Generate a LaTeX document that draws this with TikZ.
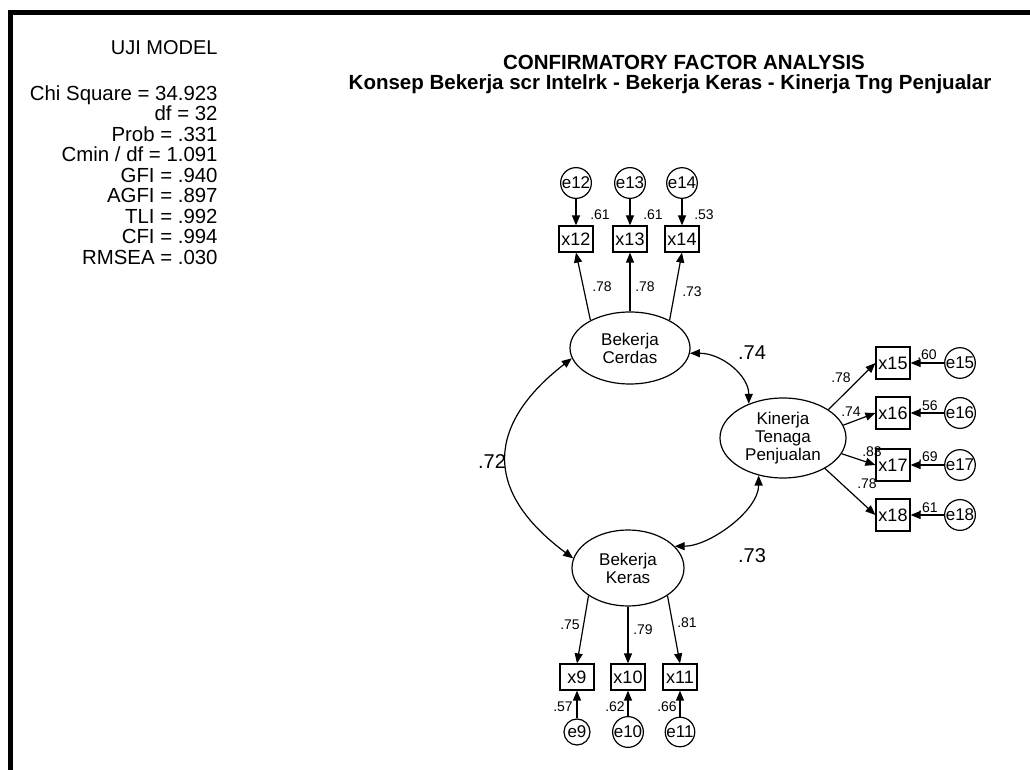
\documentclass[tikz,border=0pt]{standalone}
\usepackage{fontspec}
\setmainfont{Liberation Sans}
\usetikzlibrary{arrows.meta,shapes.geometric}
\tikzset{
  latent/.style={draw, ellipse, line width=0.6pt, inner sep=0pt, align=center, font=\fontsize{8.5}{9}\selectfont},
  obs/.style={draw, rectangle, line width=0.6pt, minimum width=17pt, minimum height=13pt, inner sep=0pt, font=\fontsize{9}{9}\selectfont},
  err/.style={draw, circle, line width=0.6pt, minimum size=13pt, inner sep=0pt, font=\fontsize{8.5}{8.5}\selectfont},
  wt/.style={inner sep=0pt, font=\fontsize{7}{7}\selectfont},
  corr/.style={inner sep=0pt, font=\fontsize{10}{10}\selectfont},
  reg/.style={-{Triangle[length=5pt,width=4pt]}, line width=0.6pt},
  cov/.style={{Triangle[length=5pt,width=4pt]}-{Triangle[length=5pt,width=4pt]}, line width=0.6pt}
}
\begin{document}
\begin{tikzpicture}[x=0.5pt,y=-0.5pt]
\useasboundingbox (0,0) rectangle (1030,770);
\draw[line width=2.5pt] (10,770) -- (10,13) -- (1030,13);
\node[anchor=base east, inner sep=0pt, font=\fontsize{10}{10}\selectfont] (uji) at (218,55) {UJI MODEL};
\node[anchor=north east, align=right, inner sep=0pt, font=\fontsize{10.2}{10.25}\selectfont] (fit) at (218,85) {Chi Square = 34.923\\df = 32\\Prob = .331\\Cmin / df = 1.091\\GFI = .940\\AGFI = .897\\TLI = .992\\CFI = .994\\RMSEA = .030};
\node[anchor=base, inner sep=0pt, font=\bfseries\fontsize{10.25}{10.25}\selectfont] (title) at (684,70) {CONFIRMATORY FACTOR ANALYSIS};
\node[anchor=base, inner sep=0pt, font=\bfseries\fontsize{10.25}{10.25}\selectfont] (subtitle) at (670,90) {Konsep Bekerja scr Intelrk - Bekerja Keras - Kinerja Tng Penjualar};
\node[latent, minimum width=60pt, minimum height=36pt] (cerdas) at (630,348) {Bekerja\\Cerdas};
\node[latent, minimum width=56pt, minimum height=38pt] (keras) at (628,568) {Bekerja\\Keras};
\node[latent, minimum width=63pt, minimum height=40pt] (kinerja) at (783,438) {Kinerja\\Tenaga\\Penjualan};
\node[obs] (x12) at (576,239) {x12};
\node[obs] (x13) at (630,239) {x13};
\node[obs] (x14) at (682,239) {x14};
\node[obs] (x9) at (577,677) {x9};
\node[obs] (x10) at (628,677) {x10};
\node[obs] (x11) at (680,677) {x11};
\node[obs, minimum height=16pt] (x15) at (893,363) {x15};
\node[obs, minimum height=16pt] (x16) at (893,413) {x16};
\node[obs, minimum height=16pt] (x17) at (893,465) {x17};
\node[obs, minimum height=16pt] (x18) at (893,515) {x18};
\node[err] (e12) at (576,183) {e12};
\node[err] (e13) at (630,183) {e13};
\node[err] (e14) at (682,183) {e14};
\node[err] (e9) at (577,732) {e9};
\node[err] (e10) at (628,732) {e10};
\node[err] (e11) at (680,732) {e11};
\node[err] (e15) at (960,363) {e15};
\node[err] (e16) at (960,413) {e16};
\node[err] (e17) at (960,465) {e17};
\node[err] (e18) at (960,515) {e18};
\draw[reg] (e12) -- (x12);
\draw[reg] (e13) -- (x13);
\draw[reg] (e14) -- (x14);
\draw[reg] (e9) -- (x9);
\draw[reg] (e10) -- (x10);
\draw[reg] (e11) -- (x11);
\draw[reg] (e15) -- (x15);
\draw[reg] (e16) -- (x16);
\draw[reg] (e17) -- (x17);
\draw[reg] (e18) -- (x18);
\draw[reg] (cerdas.145) -- (x12.south);
\draw[reg] (cerdas.north) -- (x13.south);
\draw[reg] (cerdas.35) -- (x14.south);
\draw[reg] (keras.215) -- (x9.north);
\draw[reg] (keras.south) -- (x10.north);
\draw[reg] (keras.325) -- (x11.north);
\draw[reg] (kinerja.32) -- (x15.west);
\draw[reg] (kinerja.12) -- (x16.west);
\draw[reg] (kinerja.345) -- (x17.west);
\draw[reg] (kinerja.324) -- (x18.west);
\draw[cov] (cerdas.190) .. controls +(-86,67) and +(-90,-67) .. (keras.170);
\draw[cov] (cerdas.355) .. controls +(32,0) and +(0,-28) .. (kinerja.135);
\draw[cov] (keras.25) .. controls +(35,0) and +(0,35) .. (kinerja.237);
\node[corr] (c72) at (492,462) {.72};
\node[corr] (c74) at (752,353) {.74};
\node[corr] (c73) at (752,556) {.73};
\node[wt] (r12) at (600,215) {.61};
\node[wt] (r13) at (653,215) {.61};
\node[wt] (r14) at (704,215) {.53};
\node[wt] (b12) at (602,287) {.78};
\node[wt] (b13) at (645,287) {.78};
\node[wt] (b14) at (692,292) {.73};
\node[wt] (b9) at (570,625) {.75};
\node[wt] (b10) at (643,630) {.79};
\node[wt] (b11) at (687,623) {.81};
\node[wt] (r9) at (563,707) {.57};
\node[wt] (r10) at (615,707) {.62};
\node[wt] (r11) at (667,707) {.66};
\node[wt] (b15) at (841,378) {.78};
\node[wt] (b16) at (851,412) {.74};
\node[wt] (b17) at (872,452) {.83};
\node[wt] (b18) at (867,484) {.78};
\node[wt] (r15) at (927,355) {.60};
\node[wt] (r16) at (928,406) {.56};
\node[wt] (r17) at (928,457) {.69};
\node[wt] (r18) at (928,508) {.61};
\end{tikzpicture}
\end{document}
